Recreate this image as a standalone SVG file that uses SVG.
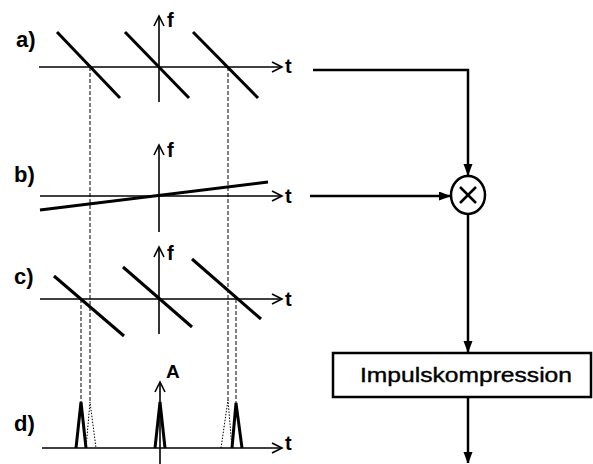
<svg xmlns="http://www.w3.org/2000/svg" width="593" height="464" viewBox="0 0 593 464">
<defs>
<style>
.ax{stroke:#000;stroke-width:1.6;fill:none}
.chev{stroke:#000;stroke-width:1.6;fill:none;stroke-linejoin:miter}
.diag{stroke:#000;stroke-width:3;fill:none;stroke-linecap:butt}
.dash{stroke:#000;stroke-width:1;fill:none;stroke-dasharray:4 2}
.dot{stroke:#000;stroke-width:1;fill:none;stroke-dasharray:1.5 1.5}
.pulse{stroke:#000;stroke-width:3;fill:none;stroke-linejoin:miter}
.con{stroke:#000;stroke-width:2.5;fill:none}
.lbl{font-family:"Liberation Sans",Arial,sans-serif;font-weight:bold;fill:#000}
</style>
<marker id="ah" markerWidth="9" markerHeight="12" refX="11" refY="4.5" orient="auto" markerUnits="userSpaceOnUse">
<path d="M0,0 L12,4.5 L0,9 Z" fill="#000"/>
</marker>
</defs>

<g id="panel-a">
<line class="ax" x1="39" y1="67" x2="282" y2="67"/>
<polyline class="chev" points="272,62 282,67 272,72"/>
<line class="ax" x1="159" y1="16" x2="159" y2="102"/>
<polyline class="chev" points="154,26 159,16 164,26"/>
<line class="diag" x1="57" y1="32" x2="120" y2="98"/>
<line class="diag" x1="125" y1="32" x2="189" y2="98"/>
<line class="diag" x1="193" y1="32" x2="258" y2="98"/>
<text class="lbl" x="16" y="47" font-size="22">a)</text>
<text class="lbl" x="167" y="27" font-size="20">f</text>
<text class="lbl" x="285" y="73" font-size="20">t</text>
</g>

<g id="panel-b">
<line class="ax" x1="40" y1="196" x2="282" y2="196"/>
<polyline class="chev" points="272,191 282,196 272,201"/>
<line class="ax" x1="159" y1="145" x2="159" y2="232"/>
<polyline class="chev" points="154,155 159,145 164,155"/>
<line class="diag" x1="40" y1="210" x2="268" y2="182"/>
<text class="lbl" x="14" y="182" font-size="22">b)</text>
<text class="lbl" x="167" y="157" font-size="20">f</text>
<text class="lbl" x="285" y="203" font-size="20">t</text>
</g>

<g id="panel-c">
<line class="ax" x1="40" y1="299" x2="282" y2="299"/>
<polyline class="chev" points="272,294 282,299 272,304"/>
<line class="ax" x1="159" y1="247" x2="159" y2="334"/>
<polyline class="chev" points="154,257 159,247 164,257"/>
<line class="diag" x1="54" y1="276" x2="124" y2="336"/>
<line class="diag" x1="123" y1="267" x2="192" y2="327"/>
<line class="diag" x1="192" y1="259" x2="261" y2="319"/>
<text class="lbl" x="14" y="284" font-size="22">c)</text>
<text class="lbl" x="167" y="260" font-size="20">f</text>
<text class="lbl" x="285" y="306" font-size="20">t</text>
</g>

<g id="panel-d">
<line class="ax" x1="42" y1="448" x2="282" y2="448"/>
<polyline class="chev" points="272,443 282,448 272,453"/>
<line class="ax" x1="160" y1="382" x2="160" y2="464"/>
<polyline class="chev" points="155,392 160,382 165,392"/>
<polyline class="pulse" points="76,448 81,402 86,448"/>
<polyline class="pulse" points="155,448 160,402 165,448"/>
<polyline class="pulse" points="232,448 236,403 242,448"/>
<polyline class="dot" points="86,448 90,402 96,448"/>
<polyline class="dot" points="221,448 228,400 232,448"/>
<text class="lbl" x="14" y="431" font-size="22">d)</text>
<text class="lbl" x="166" y="378" font-size="19">A</text>
<text class="lbl" x="285" y="450" font-size="20">t</text>
</g>

<g id="projections">
<line class="dash" x1="90" y1="67" x2="90" y2="402"/>
<line class="dash" x1="228" y1="67" x2="228" y2="400"/>
<line class="dash" x1="81" y1="299" x2="81" y2="402"/>
<line class="dash" x1="236" y1="299" x2="236" y2="403"/>
</g>

<g id="mixer">
<ellipse cx="468" cy="195" rx="17" ry="19" fill="#fff" stroke="#000" stroke-width="2.5"/>
<line x1="460" y1="187" x2="476" y2="203" stroke="#000" stroke-width="2.5"/>
<line x1="476" y1="187" x2="460" y2="203" stroke="#000" stroke-width="2.5"/>
</g>

<g id="impulskompression">
<rect x="333" y="353" width="258" height="44" fill="#fff" stroke="#000" stroke-width="2.5"/>
<text x="360" y="382" font-family="'Liberation Sans',Arial,sans-serif" font-size="21" font-weight="500" textLength="212" lengthAdjust="spacingAndGlyphs" fill="#000" stroke="#000" stroke-width="0.4">Impulskompression</text>
</g>

<g id="connectors">
<polyline class="con" points="313,70 468,70 468,175" marker-end="url(#ah)"/>
<line class="con" x1="310" y1="196" x2="450" y2="196" marker-end="url(#ah)"/>
<line class="con" x1="468" y1="214" x2="468" y2="352" marker-end="url(#ah)"/>
<line class="con" x1="468" y1="397" x2="468" y2="463" marker-end="url(#ah)"/>
</g>
</svg>
